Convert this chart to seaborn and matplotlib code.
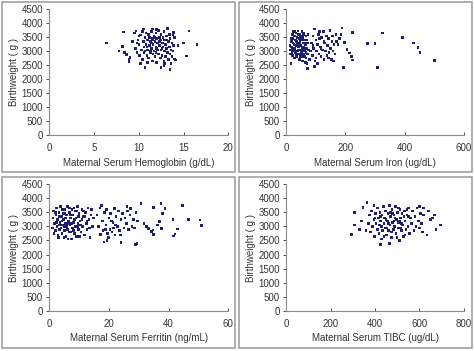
import numpy as np
import pandas as pd
import matplotlib
matplotlib.use("Agg")
import matplotlib.pyplot as plt
import seaborn as sns
from matplotlib.patches import Rectangle

# ── data (x, birthweight g) ───────────────────────────────────────
hb = [6.4, 7.8, 8.2, 8.3, 8.4, 8.6, 8.9, 8.9, 9.0, 15.6, 15.0, 15.3, 16.5, 14.4, 14.1, 14.0,
      13.5, 10.7, 10.2, 12.5, 12.8, 13.9, 14.0, 9.3, 9.5, 9.7,
      9.6, 9.8, 9.9, 10.0, 10.1, 10.2, 10.3, 10.4, 10.4, 10.5, 10.6, 10.6, 10.7, 10.8, 10.8, 10.9,
      11.0, 11.0, 11.1, 11.1, 11.2, 11.2, 11.3, 11.3, 11.4, 11.4, 11.5, 11.5, 11.6, 11.6, 11.7, 11.7,
      11.8, 11.8, 11.9, 11.9, 12.0, 12.0, 12.1, 12.1, 12.2, 12.2, 12.3, 12.3, 12.4, 12.4, 12.5, 12.5,
      12.6, 12.6, 12.7, 12.7, 12.8, 12.8, 12.9, 12.9, 13.0, 13.0, 13.1, 13.1, 13.2, 13.2, 13.3, 13.3,
      13.4, 13.4, 13.5, 13.5, 13.6, 13.6, 13.7, 13.7, 13.8, 13.8, 13.9, 10.0, 10.5, 11.5, 12.0, 9.8,
      10.9, 11.3, 11.9, 12.3, 12.6, 11.6, 11.0, 12.9, 12.0, 11.4, 12.7, 11.8, 10.7, 13.1]
bw_hb = [3300, 3010, 3160, 3690, 2950, 2880, 2700, 2630, 2780, 3720, 3300, 2830, 3250, 3200, 2680, 2720,
         2350, 2420, 2560, 2410, 2480, 3670, 3480, 3350, 3650, 3720,
         3100, 2950, 3400, 3250, 2850, 3580, 3050, 3700, 2700, 3350, 3150, 2950, 3500, 3250, 3650, 2850,
         3400, 3050, 3600, 2750, 3200, 3500, 2950, 3350, 3700, 3100, 2650, 3450, 3250, 2900, 3550, 3000,
         3350, 2800, 3150, 3650, 3450, 2600, 3050, 3300, 3750, 2900, 3500, 3200, 2750, 3400, 3050, 3600,
         3300, 2850, 3500, 3150, 2650, 3700, 3400, 3000, 3250, 2800, 3550, 3100, 3820, 2950, 3350, 2700,
         3150, 3600, 2900, 3450, 3050, 2550, 3300, 2800, 3600, 3000, 3200, 3550, 3800, 3800, 3780, 3300,
         3150, 3000, 2950, 3350, 3100, 3400, 2600, 2550, 3100, 3300, 3300, 3500, 3000, 3400]

iron = [274, 300, 326, 308, 392, 431, 446, 452, 502, 205, 213, 220, 224, 194, 223, 197, 189, 180,
        185, 170, 175, 16, 72, 96,
        12, 14, 15, 17, 18, 20, 21, 22, 24, 25, 26, 27, 28, 30, 31, 32, 33, 34, 35, 36, 38, 39, 40,
        41, 42, 43, 44, 45, 46, 47, 48, 49, 50, 51, 52, 53, 54, 55, 56, 57, 58, 59, 60, 61, 62, 63,
        64, 65, 66, 67, 68, 69, 70, 71, 72, 74, 76, 78, 20, 23, 29, 33, 37, 42, 46, 50, 55, 58, 63,
        16, 19, 27, 35, 44, 52, 60, 66, 30, 40,
        82, 85, 88, 90, 93, 95, 97, 100, 102, 105, 108, 110, 112, 115, 118, 120, 122, 125, 127, 130,
        133, 135, 138, 140, 143, 145, 148, 150, 153, 155, 158, 160, 162, 165, 168, 90, 100, 113, 128,
        142, 156, 118, 105]
bw_iron = [3280, 3280, 3650, 2420, 3500, 3300, 3140, 2960, 2670, 3070, 2930, 2800, 2690, 2420, 3680,
           3310, 3830, 3450, 3600, 3350, 3250, 2570, 2380, 2450,
           3200, 3050, 2900, 3350, 3150, 3600, 2850, 3450, 3000, 3700, 3250, 2750, 3550, 3100, 3400,
           2950, 3650, 3200, 2800, 3500, 3000, 3300, 3720, 2900, 3150, 3450, 2700, 3600, 3050, 3350,
           2850, 3550, 3200, 2950, 3400, 3700, 3100, 2650, 3300, 3500, 2900, 3150, 3650, 2800, 3400,
           3000, 2600, 3250, 3550, 2750, 3100, 3400, 2550, 2900, 3300, 3600, 3050, 2700, 3100, 3300,
           3700, 2900, 3250, 3600, 2750, 3450, 3000, 3600, 3300, 3450, 2950, 3000, 3350, 3250, 2800,
           3100, 2950, 3550, 3050,
           3000, 3300, 2850, 3550, 3100, 3800, 2650, 3400, 3000, 3250, 3600, 2900, 3450, 3150, 2800,
           3500, 3050, 3700, 2700, 3300, 3000, 3550, 2850, 3200, 3450, 2950, 3750, 3100, 2700, 3350,
           3000, 2650, 3250, 2900, 3600, 3200, 2750, 3700, 3350, 2750, 3550, 3100, 2550]

ferritin = [34.9, 37.5, 38.8, 38.0, 44.6, 41.4, 46.7, 50.5, 51.1, 36.9, 36.2, 37.7, 43.0, 34.7, 34.3,
            34.9, 42.1, 41.6, 30.7, 32.6, 33.2, 31.7, 28.8, 29.4, 24.0,
            16.0, 16.5, 17.0, 17.2, 17.5, 17.8, 18.0, 18.3, 18.6, 19.0, 19.2, 19.5, 19.8, 20.0, 20.3,
            20.6, 21.0, 21.3, 21.6, 21.8, 22.0, 22.4, 22.8, 23.2, 23.5, 24.0, 24.5, 25.0, 25.4, 25.8,
            26.2, 26.5, 27.0, 27.3, 27.7, 28.2, 28.6, 29.0, 29.5, 18.8, 20.8, 22.2, 23.8, 26.0, 19.3,
            1.0, 1.2, 1.5, 1.8, 2.0, 2.2, 2.4, 2.6, 2.8, 3.0, 3.2, 3.4, 3.6, 3.8, 4.0, 4.2, 4.4, 4.6,
            4.8, 5.0, 5.2, 5.4, 5.6, 5.8, 6.0, 6.2, 6.4, 6.6, 6.8, 7.0, 7.2, 7.4, 7.6, 7.8, 8.0, 8.2,
            8.4, 8.6, 8.8, 9.0, 9.2, 9.4, 9.6, 9.8, 10.0, 10.3, 10.6, 10.9, 11.2, 11.5, 11.8, 12.1,
            12.4, 12.7, 13.0, 13.3, 13.6, 14.0, 14.4, 14.8, 1.6, 2.5, 3.3, 3.9, 4.5, 5.1, 5.5, 6.1,
            6.7, 7.1, 7.5, 8.1, 8.5, 9.1, 9.5, 10.2, 11.0, 12.0, 13.5, 2.1, 3.5, 4.3, 5.3, 6.5, 7.3,
            8.3, 9.7, 11.4, 12.6, 4.9, 2.9, 6.3, 10.5, 14.2]
bw_ferritin = [3680, 3820, 3645, 3470, 3740, 3255, 3255, 3230, 3040, 3170, 3050, 2935, 2910, 2870, 2810,
               2720, 2730, 2660, 3820, 2990, 2930, 3110, 2360, 2400, 2420,
               3400, 3000, 3650, 2720, 3740, 3200, 2850, 2450, 3500, 3050, 3610, 2750, 2600, 3300, 2900,
               3450, 2800, 3150, 2950, 3640, 2700, 3350, 3000, 3550, 2850, 3250, 3450, 2950, 3300, 3100,
               3550, 2900, 3400, 3640, 3000, 3250, 2950, 3500, 3200, 2900, 3200, 3050, 2700, 3700, 2500,
               2950, 3300, 3550, 3100, 2850, 3400, 3650, 3000, 3250, 2600, 3500, 2900, 3150, 3700, 3350,
               2750, 3050, 3450, 3250, 2850, 3600, 3100, 2650, 3400, 3000, 3700, 3200, 2800, 3500, 3050,
               3300, 2550, 3600, 2950, 3400, 3150, 2750, 3550, 3000, 3300, 2650, 3700, 3100, 2900, 3450,
               3200, 2800, 3600, 3000, 3350, 2700, 3500, 3100, 2900, 3650, 3250, 2600, 3400, 3000, 3300,
               2750, 3150, 3350, 2950, 3600, 3000, 3300, 2900, 3650, 3400, 3100, 2850, 3250, 3550, 3000,
               2650, 3250, 3350, 2950, 3500, 3050, 3200, 3450, 3100, 2800, 3650, 3350, 3550, 3200, 2600,
               2700, 2550, 3050, 3600]

tibc = [293, 307, 308, 346, 364, 695, 675, 668, 635, 424, 330, 340, 360, 650, 640, 620, 600, 660,
        370, 375, 380, 385, 390, 395, 398, 402, 405, 410, 412, 415, 418, 420, 423, 426, 429, 432,
        435, 438, 441, 444, 447, 450, 453, 456, 459, 462, 465, 468, 471, 474, 477, 480, 483, 486,
        489, 492, 495, 498, 501, 504, 507, 510, 513, 516, 519, 522, 525, 528, 532, 536, 540, 544,
        548, 552, 556, 560, 565, 570, 575, 580, 585, 590, 595, 600, 605, 610, 615, 620, 430, 445,
        460, 475, 490, 505, 520, 535, 550, 440, 455, 470, 485, 500, 515, 530, 545, 400, 425, 450,
        480, 510, 465, 395]
bw_tibc = [2710, 3490, 3045, 3665, 3845, 3045, 2900, 3400, 2690, 2350, 2900, 3200, 2850, 3250, 3550,
           3650, 3700, 3300,
           3100, 3400, 2800, 3550, 3000, 3250, 2650, 3450, 3100, 2900, 3650, 3300, 2750, 3050, 3500,
           3200, 2550, 3400, 2850, 3700, 3100, 3300, 2950, 3550, 2700, 3200, 3450, 2850, 3750, 3050,
           3350, 2600, 3600, 3150, 2900, 3400, 3000, 3700, 2750, 3250, 3500, 2950, 3150, 2500, 3600,
           3300, 2850, 3450, 3050, 2650, 3550, 3200, 2900, 3400, 3000, 3650, 2750, 3300, 3100, 3550,
           2850, 3350, 3000, 3650, 3200, 2950, 3450, 3100, 2800, 3400, 3000, 3550, 3100, 2800, 3300,
           3650, 3100, 2700, 3350, 2650, 2950, 3500, 3200, 2600, 2950, 3350, 3600, 3300, 3350, 3250,
           3450, 3200, 2400, 3750]

panels = [
    (hb, bw_hb, "Maternal Serum Hemoglobin (g/dL)", [0, 5, 10, 15, 20]),
    (iron, bw_iron, "Maternal Serum Iron (ug/dL)", [0, 200, 400, 600]),
    (ferritin, bw_ferritin, "Maternal Serum Ferritin (ng/mL)", [0, 20, 40, 60]),
    (tibc, bw_tibc, "Maternal Serum TIBC (ug/dL)", [0, 200, 400, 600, 800]),
]

sns.set_style("white")
plt.rcParams["font.family"] = ["Liberation Sans", "DejaVu Sans"]

fig = plt.figure(figsize=(4.74, 3.51), dpi=100)

W, H = 474, 351
# axes boxes in pixels: left, right, top, bottom
ax_px = [(49.3, 228.3, 9.3, 135.0), (286.3, 463.7, 9.3, 135.0),
         (49.3, 228.3, 184.3, 310.7), (286.3, 463.7, 184.3, 310.7)]
# panel frames in pixels: left, top, right, bottom
frame_px = [(2, 2, 235, 172), (239, 2, 472, 172), (2, 177, 235, 348), (239, 177, 472, 348)]

for (l, t, r, b) in frame_px:
    fig.add_artist(Rectangle((l / W, 1 - b / H), (r - l) / W, (b - t) / H,
                             transform=fig.transFigure, fill=False,
                             edgecolor="#9a9a9a", linewidth=1.1))

txt = "#333333"
for (x, y, xlabel, xticks), (l, r, t, b) in zip(panels, ax_px):
    ax = fig.add_axes([l / W, 1 - b / H, (r - l) / W, (b - t) / H])
    df = pd.DataFrame({"x": x, "y": y})
    sns.scatterplot(data=df, x="x", y="y", ax=ax, marker="s", s=3.5,
                    color="#1f1f72", edgecolor="none", linewidth=0)
    ax.set_xlim(xticks[0], xticks[-1])
    ax.set_ylim(0, 4500)
    ax.set_xticks(xticks)
    ax.set_yticks(range(0, 4501, 500))
    ax.set_xlabel(xlabel, fontsize=7, color=txt, labelpad=3)
    ax.set_ylabel("Birthweight ( g )", fontsize=7, color=txt, labelpad=2)
    ax.tick_params(axis="x", direction="in", length=2.5, width=0.6, pad=6,
                   labelsize=7, colors=txt)
    ax.tick_params(axis="y", direction="out", length=2.5, width=0.6, pad=2,
                   labelsize=7, colors=txt)
    ax.tick_params(axis="x", bottom=True)
    ax.tick_params(axis="y", left=True)
    for side in ["top", "right"]:
        ax.spines[side].set_visible(False)
    for side in ["left", "bottom"]:
        ax.spines[side].set_color("#888888")
        ax.spines[side].set_linewidth(0.8)
    ax.patch.set_alpha(0)

fig.savefig("out.png", dpi=100)
